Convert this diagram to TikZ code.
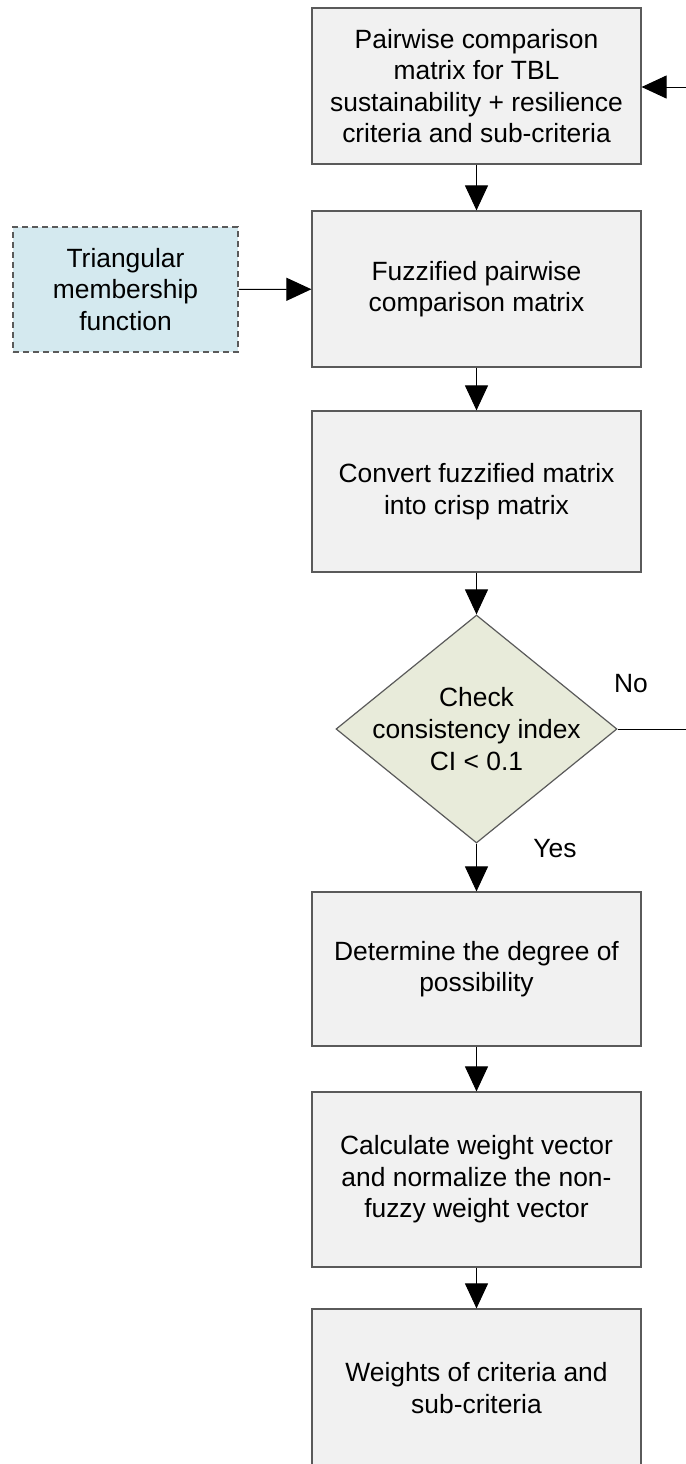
\documentclass[tikz,border=0pt]{standalone}
\usepackage{fontspec}
\setmainfont{Liberation Sans}
\usetikzlibrary{arrows.meta,shapes.geometric}
\definecolor{boxfill}{RGB}{241,241,241}
\definecolor{boxline}{RGB}{90,90,90}
\definecolor{inputfill}{RGB}{212,233,239}
\definecolor{decisionfill}{RGB}{232,235,218}
\tikzset{
  labelfont/.style={font=\fontsize{13.2}{15.8}\selectfont},
  stepbox/.style={draw=boxline, fill=boxfill, line width=0.6pt, rectangle,
    minimum width=164.5pt, inner sep=0pt, align=center, labelfont},
  inputbox/.style={draw=boxline, fill=inputfill, line width=0.6pt, dashed,
    dash pattern=on 3pt off 2pt, rectangle, minimum width=112.5pt,
    minimum height=62.5pt, inner sep=0pt, align=center, labelfont},
  decision/.style={draw=boxline, fill=decisionfill, line width=0.6pt, diamond,
    minimum width=140.5pt, minimum height=114pt, inner sep=0pt},
  flow/.style={draw=black, line width=0.5pt, -{Triangle[length=12.5pt,width=11.5pt]}},
  plain/.style={draw=black, line width=0.5pt},
  tag/.style={labelfont, inner sep=0pt, align=center}
}
\begin{document}
\begin{tikzpicture}[x=0.5pt, y=-0.5pt]
  \path[use as bounding box] (0,0) rectangle (686,1464);
  \clip (0,0) rectangle (686,1464);

  % process steps
  \node[stepbox, minimum height=78pt] (p1) at (476.5,86)
    {Pairwise comparison\\matrix for TBL\\sustainability + resilience\\criteria and sub-criteria};
  \node[stepbox, minimum height=78pt] (p2) at (476.5,289)
    {Fuzzified pairwise\\comparison matrix};
  \node[stepbox, minimum height=80.5pt] (p3) at (476.5,491.5)
    {Convert fuzzified matrix\\into crisp matrix};
  \node[decision] (ci) at (476.5,729) {};
  \node[tag] (citext) at (ci) {Check\\consistency index\\CI < 0.1};
  \node[stepbox, minimum height=77pt] (p4) at (476.5,969)
    {Determine the degree of\\possibility};
  \node[stepbox, minimum height=87.5pt] (p5) at (476.5,1179.5)
    {Calculate weight vector\\and normalize the non-\\fuzzy weight vector};
  \node[stepbox, minimum height=79pt] (p6) at (476.5,1388)
    {Weights of criteria and\\sub-criteria};

  % external input
  \node[inputbox] (tm) at (125.5,289.5)
    {Triangular\\membership\\function};

  % loop-back ends at the right margin
  \coordinate (noend) at (690,729);
  \coordinate (backin) at (690,87);

  % connectors
  \draw[flow] (p1) -- (p2);
  \draw[flow] (p2) -- (p3);
  \draw[flow] (p3) -- (ci);
  \draw[flow] (ci) -- (p4);
  \draw[flow] (p4) -- (p5);
  \draw[flow] (p5) -- (p6);
  \draw[flow] (tm) -- (p2);
  \draw[plain] (ci.east) -- (noend);
  \draw[flow] (backin) -- (p1.east |- backin);

  % branch labels
  \node[tag] (nolbl) at (631,684) {No};
  \node[tag] (yeslbl) at (555,849) {Yes};
\end{tikzpicture}
\end{document}
